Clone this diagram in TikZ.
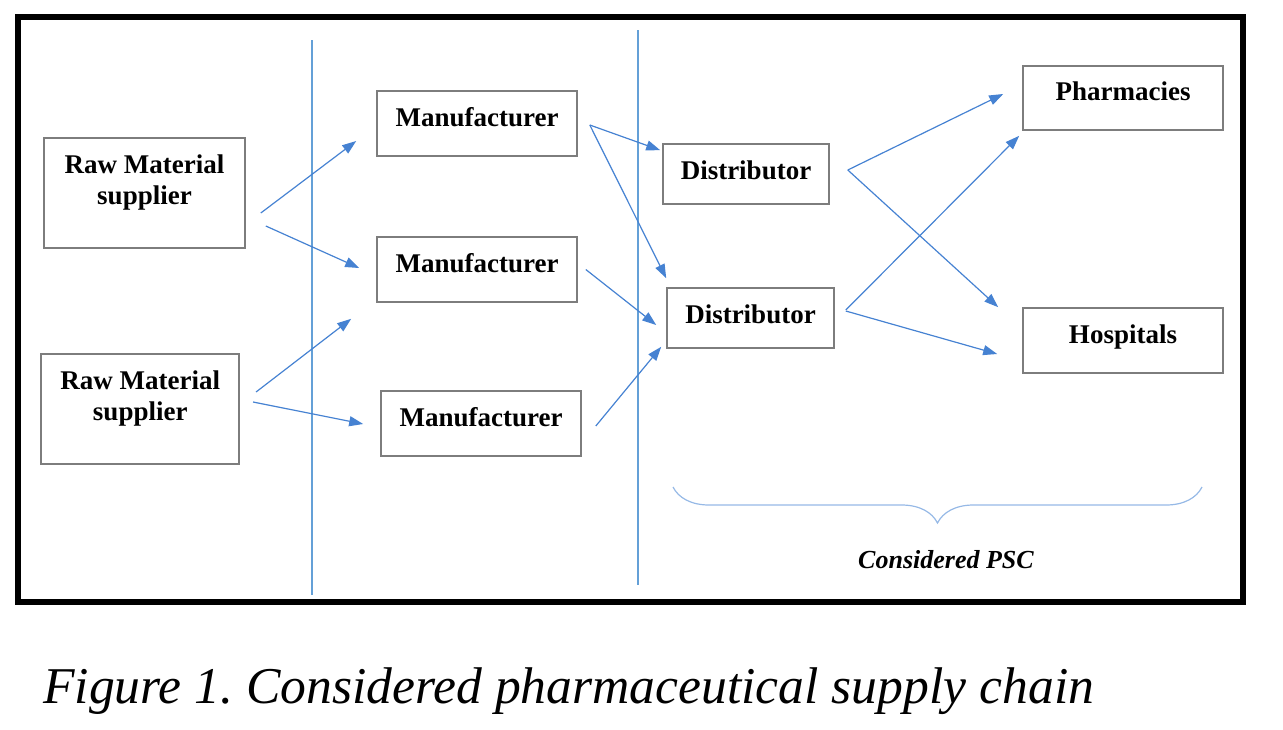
\documentclass[tikz,border=0pt]{standalone}
\usepackage{fontspec}
\setmainfont{Liberation Serif}
\usepackage{tikz}
\usetikzlibrary{arrows.meta,positioning,decorations.pathreplacing,calc}
\definecolor{sepblue}{RGB}{100,160,215}
\definecolor{flowblue}{RGB}{70,130,210}
\definecolor{boxgray}{RGB}{125,125,125}
\definecolor{braceblue}{RGB}{150,185,230}
\tikzset{
  stagebox/.style = {draw=boxgray, line width=1.6pt, inner sep=0pt, align=center,
    font=\fontsize{27}{31}\selectfont\bfseries, text height=18pt, text depth=13pt},
  distbox/.style = {stagebox, text depth=8pt},
  flow/.style = {flowblue, line width=1.2pt, -{Triangle[length=14pt,width=10pt]}},
  separator/.style = {sepblue, line width=1.3pt},
  pscbrace/.style = {braceblue, line width=1.2pt, decorate, decoration={brace, mirror, amplitude=36pt}},
}

\begin{document}
\frenchspacing
\begin{tikzpicture}[x=1pt, y=-1pt]
\useasboundingbox (0,0) rectangle (1283,729);

% outer frame and stage separators
\draw[line width=6pt] (17.5,17) rectangle (1242.5,602);
\draw[separator] (312,40) -- (312,595);
\draw[separator] (638,30) -- (638,585);

% raw material suppliers
\node[stagebox, minimum width=201pt, minimum height=110pt, text height=49pt, text depth=26pt] (rms1) at (144.5,193) {Raw Material\\supplier};
\node[stagebox, minimum width=198pt, minimum height=110pt, text height=49pt, text depth=26pt] (rms2) at (140.25,409) {Raw Material\\supplier};

% manufacturers
\node[stagebox, minimum width=200pt, minimum height=65pt] (man1) at (477,123.5) {Manufacturer};
\node[stagebox, minimum width=200pt, minimum height=65pt] (man2) at (477,269.5) {Manufacturer};
\node[stagebox, minimum width=200pt, minimum height=65pt] (man3) at (481,423.5) {Manufacturer};

% distributors
\node[distbox, minimum width=166pt, minimum height=60pt] (dist1) at (746,174) {Distributor};
\node[distbox, minimum width=167pt, minimum height=60pt] (dist2) at (750.5,318) {Distributor};

% retailers
\node[stagebox, minimum width=200pt, minimum height=64pt] (pharm) at (1123,98) {Pharmacies};
\node[stagebox, minimum width=200pt, minimum height=65pt] (hosp) at (1123,340.5) {Hospitals};

% flows
\draw[flow] ([shift={(15,20)}]rms1.east) -- ([shift={(-20,17.5)}]man1.west);
\draw[flow] ([shift={(20,33)}]rms1.east) -- ([shift={(-17,-1.5)}]man2.west);
\draw[flow] ([shift={(16,-17)}]rms2.east) -- ([shift={(-25,16)}]man2.south west);
\draw[flow] ([shift={(13,-7)}]rms2.east) -- ([shift={(-17,0.5)}]man3.west);
\draw[flow] ([shift={(12,1.5)}]man1.east) -- ([shift={(-2,7)}]dist1.north west);
\draw[flow] ([shift={(12,1.5)}]man1.east) -- ([shift={(0,-9)}]dist2.north west);
\draw[flow] ([shift={(8,0)}]man2.east) -- ([shift={(-10,7)}]dist2.west);
\draw[flow] ([shift={(14,2.5)}]man3.east) -- ([shift={(-5,-2)}]dist2.south west);
\draw[flow] ([shift={(18,-4)}]dist1.east) -- ([shift={(-19,-4)}]pharm.west);
\draw[flow] ([shift={(18,-4)}]dist1.east) -- ([shift={(-24,0)}]hosp.north west);
\draw[flow] ([shift={(11,-8)}]dist2.east) -- ([shift={(-3,5)}]pharm.south west);
\draw[flow] ([shift={(11,-7)}]dist2.east) -- ([shift={(-25,13.5)}]hosp.west);

% considered part of the chain
\draw[pscbrace] (673,487) -- (1202,487);
\node[font=\fontsize{26}{29}\selectfont\bfseries\itshape, anchor=base] (psc) at (946,568) {Considered PSC};

% caption
\node[font=\fontsize{51.6}{60}\selectfont\itshape, anchor=base west, inner sep=0pt] (caption) at (43,703) {Figure 1. Considered pharmaceutical supply chain};
\end{tikzpicture}
\end{document}
